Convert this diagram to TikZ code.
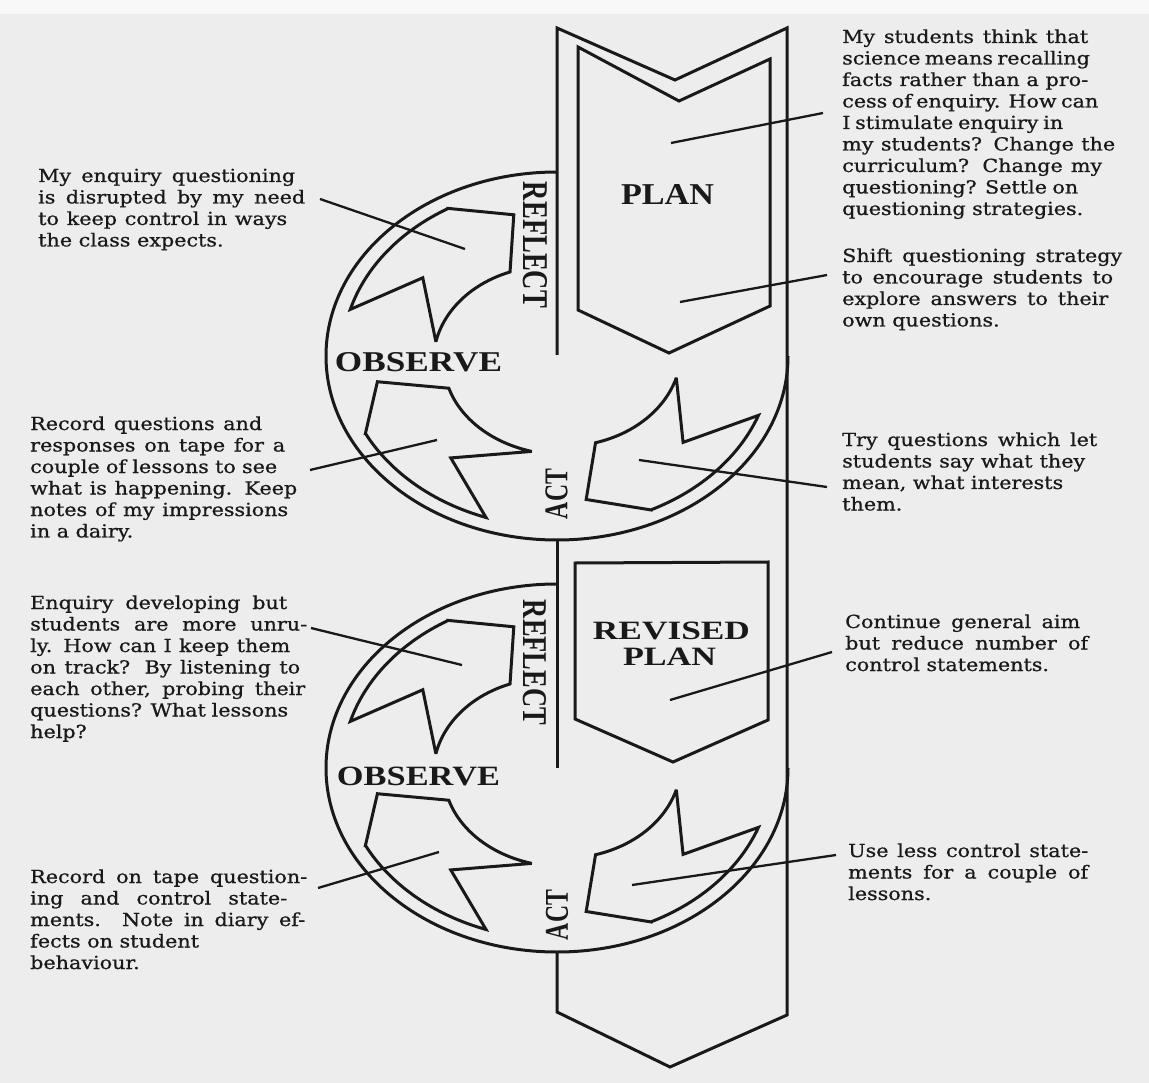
\documentclass[tikz,border=0pt]{standalone}
\usepackage{fontspec}
\usepackage{graphicx}
\setmainfont{DejaVu Serif}[FakeStretch=1.15, FakeBold=0.8]
\newfontfamily\labfont{Liberation Serif}
\definecolor{paper}{RGB}{237,237,237}
\definecolor{ink}{RGB}{25,25,25}
\newcommand\jl[2]{\makebox[#1pt][s]{#2}}
\newcommand\ringarrow[1]{%
  \begin{scope}[rotate=#1]
    \draw[outline] (120.4:.93) -- (103.7:.79) -- (114:.50)
      -- plot[domain=114:171.6, samples=25] (\x:{0.50+0.03*(\x-114)/57.6})
      -- (143.8:.72) -- (164.2:.93)
      arc[start angle=164.2, end angle=120.4, radius=.93] -- cycle;
  \end{scope}}
\newcommand\drawring[1]{%
  \begin{scope}[shift={(557,#1)}, xscale=231, yscale=-184]
    \draw[outline] (90:1) arc[start angle=90, end angle=360, radius=1];
    \ringarrow{0}
    \ringarrow{-86.5}
    \ringarrow{-175.5}
  \end{scope}}
\begin{document}
\begin{tikzpicture}[x=1pt,y=-1pt,
  outline/.style={draw=ink, line width=3pt, line join=miter, miter limit=4},
  leader/.style={draw=ink, line width=2.3pt},
  txt/.style={font=\fontsize{18}{21.5}\selectfont, inner sep=0pt, anchor=base west, text=ink},
  lab/.style={font=\labfont\bfseries, inner sep=0pt, text=ink}]
\fill[paper] (0,0) rectangle (1149,1083);
\fill[white!60!paper] (0,0) rectangle (1149,14);
\useasboundingbox (0,0) rectangle (1149,1083);

% big band
\draw[outline] (557,355) -- (557,28) -- (675,80) -- (787,28) -- (787,1015)
  -- (670,1067) -- (557,1012) -- (557,952);
\draw[outline] (557,540) -- (557,768);
% plan boxes
\draw[outline] (578,310) -- (578,47) -- (679,101) -- (770,59) -- (770,306) -- (669,353) -- cycle;
\draw[outline] (575,719) -- (575,563) -- (768,562) -- (768,720) -- (673,762) -- cycle;
% rings
\drawring{356}
\drawring{768}

% labels
\node[lab] (plan) at (667.5,195) {\resizebox{93pt}{20pt}{PLAN}};
\node[lab] (obs1) at (418.5,362.5) {\resizebox{167pt}{19pt}{OBSERVE}};
\node[lab] (obs2) at (418.5,776) {\resizebox{163pt}{18.5pt}{OBSERVE}};
\node[lab] (rev) at (671.5,631) {\resizebox{157pt}{17.5pt}{REVISED}};
\node[lab] (plan2) at (669.5,657) {\resizebox{93pt}{17.5pt}{PLAN}};
\node[lab] (refl1) at (535.5,245) {\rotatebox{-90}{\resizebox{126pt}{24pt}{REFLECT}}};
\node[lab] (refl2) at (534.5,662.5) {\rotatebox{-90}{\resizebox{125pt}{23pt}{REFLECT}}};
\node[lab] (act1) at (556.5,494) {\rotatebox{90}{\resizebox{50pt}{22pt}{ACT}}};
\node[lab] (act2) at (557,915) {\rotatebox{90}{\resizebox{50pt}{22pt}{ACT}}};

% left texts
\node[txt] (tl1) at (38,182) {\begin{tabular}[t]{@{}l@{}}
\jl{257}{My enquiry questioning}\\
\jl{267}{is disrupted by my need}\\
\jl{249}{to keep control in ways}\\
the class expects.\end{tabular}};
\node[txt] (tl2) at (30,430) {\begin{tabular}[t]{@{}l@{}}
\jl{232}{Record questions and}\\
\jl{255}{responses on tape for a}\\
\jl{247}{couple of lessons to see}\\
\jl{267}{what is happening. Keep}\\
\jl{258}{notes of my impressions}\\
in a dairy.\end{tabular}};
\node[txt] (tl3) at (30,609) {\begin{tabular}[t]{@{}l@{}}
\jl{257}{Enquiry developing but}\\
\jl{277}{students are more unru-}\\
\jl{260}{ly. How can I keep them}\\
\jl{270}{on track? By listening to}\\
\jl{275}{each other, probing their}\\
\jl{258}{questions? What lessons}\\
help?\end{tabular}};
\node[txt] (tl4) at (30,883) {\begin{tabular}[t]{@{}l@{}}
\jl{277}{Record on tape question-}\\
\jl{257}{ing and control state-}\\
\jl{275}{ments. Note in diary ef-}\\
fects on student\\
behaviour.\end{tabular}};

% right texts
\node[txt] (tr1) at (842,43) {\begin{tabular}[t]{@{}l@{}}
\jl{246}{My students think that}\\
\jl{246}{science means recalling}\\
\jl{246}{facts rather than a pro-}\\
\jl{248}{cess of enquiry. How can}\\
\jl{221}{I stimulate enquiry in}\\
\jl{273}{my students? Change the}\\
\jl{260}{curriculum? Change my}\\
\jl{236}{questioning? Settle on}\\
questioning strategies.\end{tabular}};
\node[txt] (tr2) at (842,262) {\begin{tabular}[t]{@{}l@{}}
\jl{280}{Shift questioning strategy}\\
\jl{271}{to encourage students to}\\
\jl{266}{explore answers to their}\\
own questions.\end{tabular}};
\node[txt] (tr3) at (842,446) {\begin{tabular}[t]{@{}l@{}}
\jl{255}{Try questions which let}\\
\jl{243}{students say what they}\\
\jl{221}{mean, what interests}\\
them.\end{tabular}};
\node[txt] (tr4) at (845,628) {\begin{tabular}[t]{@{}l@{}}
\jl{235}{Continue general aim}\\
\jl{243}{but reduce number of}\\
control statements.\end{tabular}};
\node[txt] (tr5) at (848,857) {\begin{tabular}[t]{@{}l@{}}
\jl{240}{Use less control state-}\\
\jl{240}{ments for a couple of}\\
lessons.\end{tabular}};

% leader lines
\coordinate (l1a) at (320,199); \coordinate (l1b) at (465,249);
\coordinate (l2a) at (310,470); \coordinate (l2b) at (437,440);
\coordinate (l3a) at (311,628); \coordinate (l3b) at (462,665);
\coordinate (l4a) at (318,888); \coordinate (l4b) at (439,852);
\coordinate (r1a) at (823,113); \coordinate (r1b) at (671,143);
\coordinate (r2a) at (827,275); \coordinate (r2b) at (680,302);
\coordinate (r3a) at (827,487); \coordinate (r3b) at (639,460);
\coordinate (r4a) at (832,652); \coordinate (r4b) at (670,700);
\coordinate (r5a) at (836,855); \coordinate (r5b) at (632,885);
\foreach \a/\b in {l1a/l1b,l2a/l2b,l3a/l3b,l4a/l4b,r1a/r1b,r2a/r2b,r3a/r3b,r4a/r4b,r5a/r5b}
  \draw[leader] (\a) -- (\b);
\end{tikzpicture}
\end{document}
